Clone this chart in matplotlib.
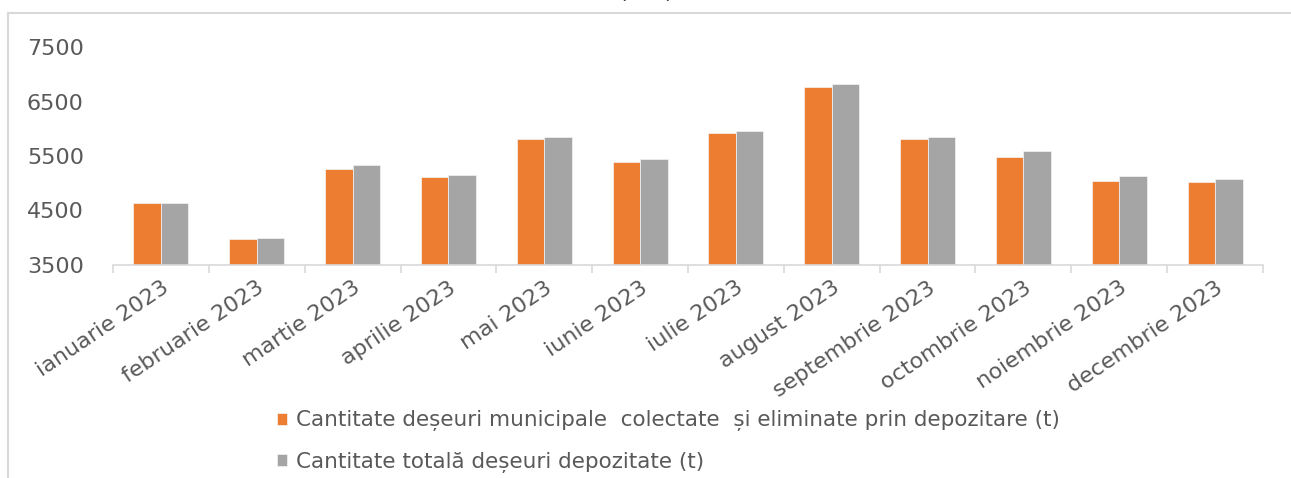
import matplotlib
matplotlib.use("Agg")
import matplotlib.pyplot as plt
import matplotlib.lines as mlines
import matplotlib.transforms as mtransforms
import numpy as np

plt.rcParams['font.family'] = ['DejaVu Sans']

categories = ["ianuarie 2023", "februarie 2023", "martie 2023", "aprilie 2023",
              "mai 2023", "iunie 2023", "iulie 2023", "august 2023",
              "septembrie 2023", "octombrie 2023", "noiembrie 2023", "decembrie 2023"]
colectate = [4630, 3980, 5260, 5115, 5820, 5395, 5925, 6765, 5820, 5485, 5040, 5020]
total = [4645, 4000, 5335, 5150, 5850, 5450, 5960, 6820, 5850, 5590, 5135, 5080]
series_names = ["Cantitate deșeuri municipale  colectate  și eliminate prin depozitare (t)",
                "Cantitate totală deșeuri depozitate (t)"]
yticks = [3500, 4500, 5500, 6500, 7500]

W, H = 1291, 478
fig = plt.figure(figsize=(W / 100, H / 100), dpi=100)

# outer chart frame (top and left edges visible)
fx, fy = 8 / W, 1 - 13 / H
fig.lines.append(mlines.Line2D([fx, 1.0], [fy, fy], transform=fig.transFigure,
                               color="#D9D9D9", linewidth=1.5))
fig.lines.append(mlines.Line2D([fx, fx], [0.0, fy], transform=fig.transFigure,
                               color="#D9D9D9", linewidth=1.5))

# clipped title remnant
fig.text(646 / W, 1 + 2 / H, "(  t  )", ha="center", va="baseline", fontsize=16, color="#404040")

ax = fig.add_axes([113 / W, 1 - 265 / H, (1263 - 113) / W, (265 - 47) / H])
x = np.arange(len(categories))
w = 0.287
ax.bar(x - w / 2, colectate, w, color="#ED7D31", edgecolor="#F4F4F4", linewidth=0.5,
       label=series_names[0])
ax.bar(x + w / 2, total, w, color="#A5A5A5", edgecolor="#F4F4F4", linewidth=0.5,
       label=series_names[1])

ax.set_ylim(3500, 7500)
ax.set_xlim(-0.5, len(categories) - 0.5)
ax.set_yticks(yticks)
ax.set_yticklabels([str(v) for v in yticks], fontsize=16, color="#595959")
ax.tick_params(axis="y", length=0, pad=21)

ax.set_xticks(x)
ax.set_xticklabels(categories, rotation=34, ha="right", va="top", rotation_mode="anchor",
                   fontsize=16, color="#595959")
ax.tick_params(axis="x", which="major", length=0, pad=9)
offset = mtransforms.ScaledTranslation(0 / 100, 0, fig.dpi_scale_trans)
for lbl in ax.get_xticklabels():
    lbl.set_transform(lbl.get_transform() + offset)
ax.set_xticks(np.arange(-0.5, len(categories), 1.0), minor=True)
ax.tick_params(axis="x", which="minor", length=6, color="#D9D9D9", width=1.2)

for s in ["top", "right", "left"]:
    ax.spines[s].set_visible(False)
ax.spines["bottom"].set_color("#D9D9D9")
ax.spines["bottom"].set_linewidth(1.2)

leg = fig.legend(loc="upper left", bbox_to_anchor=(258 / W, 1 - 391 / H), ncol=1,
                 frameon=False, fontsize=15.5, handlelength=0.47, handleheight=0.47,
                 handletextpad=0.4, labelspacing=0.95, labelcolor="#595959",
                 borderpad=0.4)

fig.savefig("out.png", dpi=100)
